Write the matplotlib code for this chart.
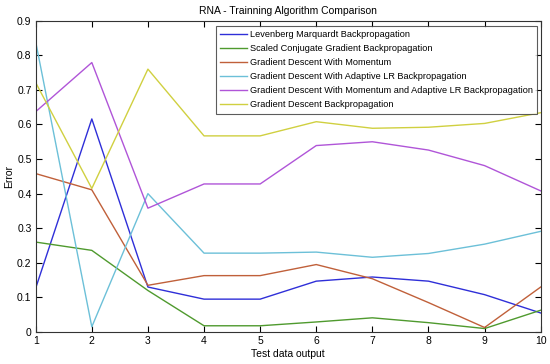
import matplotlib
matplotlib.use("Agg")
import matplotlib.pyplot as plt

plt.rcParams['font.family'] = ['Liberation Sans', 'DejaVu Sans']

x = list(range(1, 11))
labels = [
    "Levenberg Marquardt Backpropagation",
    "Scaled Conjugate Gradient Backpropagation",
    "Gradient Descent With Momentum",
    "Gradient Descent With Adaptive LR Backpropagation",
    "Gradient Descent With Momentum and Adaptive LR Backpropagation",
    "Gradient Descent Backpropagation",
]
lm = [0.127, 0.616, 0.130, 0.095, 0.095, 0.147, 0.159, 0.147, 0.108, 0.055]
scg = [0.260, 0.236, 0.120, 0.018, 0.018, 0.029, 0.041, 0.027, 0.010, 0.063]
gdm = [0.458, 0.411, 0.135, 0.163, 0.163, 0.195, 0.154, 0.085, 0.013, 0.130]
gda = [0.839, 0.015, 0.400, 0.228, 0.228, 0.231, 0.216, 0.227, 0.254, 0.291]
gdx = [0.637, 0.779, 0.358, 0.428, 0.428, 0.539, 0.550, 0.526, 0.481, 0.408]
gd = [0.721, 0.415, 0.760, 0.567, 0.567, 0.608, 0.589, 0.592, 0.603, 0.634]
series = [lm, scg, gdm, gda, gdx, gd]
colors = ['#2f2fd8', '#4f9a2e', '#c0603a', '#6cc0d8', '#b055d8', '#d0d040']

fig = plt.figure(figsize=(5.5, 3.64), dpi=100)
ax = fig.add_axes([35.7/550, 1-332/364, (540.7-35.7)/550, (332-20.7)/364])
for s, c, l in zip(series, colors, labels):
    ax.plot(x, s, color=c, lw=1.0, label=l)
ax.set_xlim(1, 10)
ax.set_ylim(0, 0.9)
ax.set_xticks(x)
ax.set_yticks([0, 0.1, 0.2, 0.3, 0.4, 0.5, 0.6, 0.7, 0.8, 0.9])
ax.set_yticklabels(['0', '0.1', '0.2', '0.3', '0.4', '0.5', '0.6', '0.7', '0.8', '0.9'])
ax.tick_params(direction='in', top=True, right=True, labelsize=7.5, length=4, width=0.8, pad=3)
for sp in ax.spines.values():
    sp.set_linewidth(0.8)
    sp.set_color('#333333')
ax.set_title("RNA - Trainning Algorithm Comparison", fontsize=7.5, pad=5)
ax.set_xlabel("Test data output", fontsize=7.5, labelpad=2)
ax.set_ylabel("Error", fontsize=7.5, labelpad=2)
leg = ax.legend(loc='upper right', bbox_to_anchor=(0.9925, 0.9825), fontsize=6.6, frameon=True,
                fancybox=False, edgecolor='#333333', handlelength=3.0, borderpad=0.45,
                labelspacing=0.55, handletextpad=0.25, borderaxespad=0)
leg.get_frame().set_linewidth(0.8)
fig.savefig("out.png", dpi=100)
